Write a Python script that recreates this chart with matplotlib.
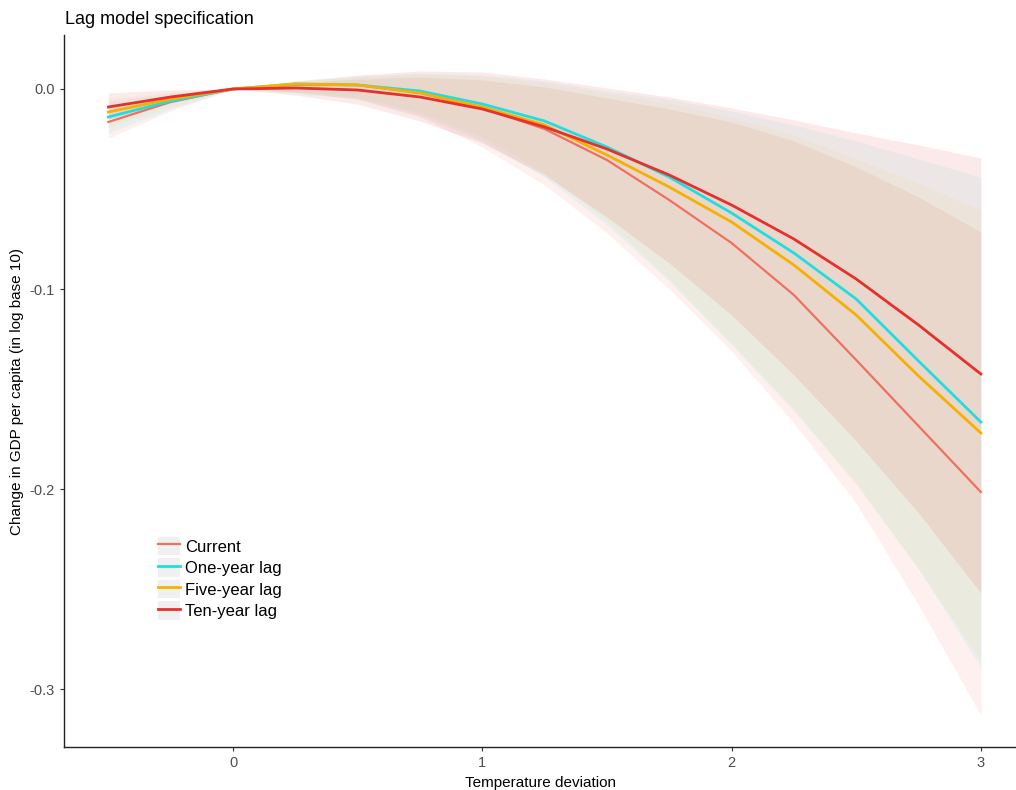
import matplotlib
matplotlib.use("Agg")
import matplotlib.pyplot as plt
from matplotlib.lines import Line2D
from matplotlib.patches import Patch

plt.rcParams['font.family'] = ['Liberation Sans', 'DejaVu Sans']

# temperature deviation grid
temp = [-0.5, -0.25, 0, 0.25, 0.5, 0.75, 1, 1.25, 1.5, 1.75, 2, 2.25, 2.5, 2.75, 3]

# fitted curves
current = [-0.0165, -0.0065, 0, 0.002, 0.002, -0.002, -0.0095, -0.020, -0.0355, -0.0555,
           -0.077, -0.103, -0.1355, -0.1685, -0.2015]
one_year = [-0.014, -0.006, 0, 0.0025, 0.002, -0.001, -0.0075, -0.016, -0.029, -0.044,
            -0.062, -0.082, -0.105, -0.136, -0.1665]
five_year = [-0.0115, -0.005, 0, 0.0025, 0.002, -0.002, -0.009, -0.018, -0.033, -0.049,
             -0.0665, -0.088, -0.113, -0.1435, -0.172]
ten_year = [-0.009, -0.004, 0, 0.0005, -0.0005, -0.004, -0.010, -0.019, -0.030, -0.043,
            -0.058, -0.075, -0.095, -0.118, -0.1425]

# confidence bands
current_lo = [-0.0245, -0.011, 0, -0.0015, -0.005, -0.014, -0.029, -0.048, -0.072, -0.100,
              -0.131, -0.167, -0.207, -0.258, -0.313]
current_hi = [-0.009, -0.003, 0, 0.003, 0.005, 0.006, 0.0045, 0.001, -0.0045, -0.010,
              -0.0165, -0.026, -0.039, -0.054, -0.0715]
one_year_lo = [-0.022, -0.010, 0, -0.002, -0.005, -0.013, -0.026, -0.044, -0.068, -0.096,
               -0.128, -0.161, -0.197, -0.240, -0.289]
one_year_hi = [-0.006, -0.002, 0, 0.004, 0.0065, 0.008, 0.007, 0.004, -0.001, -0.005,
               -0.011, -0.018, -0.026, -0.035, -0.044]
five_year_lo = [-0.019, -0.009, 0, -0.0015, -0.004, -0.012, -0.024, -0.042, -0.066, -0.095,
                -0.127, -0.160, -0.198, -0.240, -0.2855]
five_year_hi = [-0.005, -0.0015, 0, 0.0035, 0.006, 0.0075, 0.0065, 0.003, -0.002, -0.007,
                -0.014, -0.023, -0.035, -0.047, -0.0605]
ten_year_lo = [-0.015, -0.007, 0, -0.003, -0.0075, -0.016, -0.027, -0.043, -0.064, -0.087,
               -0.113, -0.143, -0.176, -0.212, -0.252]
ten_year_hi = [-0.002, -0.0005, 0, 0.004, 0.007, 0.009, 0.0085, 0.005, 0.0005, -0.004,
               -0.0095, -0.0155, -0.022, -0.028, -0.0345]

labels = ['Current', 'One-year lag', 'Five-year lag', 'Ten-year lag']
colors = ['#F0705F', '#22DDE0', '#F5B000', '#E5302D']
band_alpha = [0.10, 0.08, 0.05, 0.10]
widths = [1.6, 2.0, 2.0, 2.0]
centers = [current, one_year, five_year, ten_year]
lows = [current_lo, one_year_lo, five_year_lo, ten_year_lo]
highs = [current_hi, one_year_hi, five_year_hi, ten_year_hi]

fig = plt.figure(figsize=(10.16, 7.9), dpi=100)
ax = fig.add_axes([0.063, 0.0544, 0.937, 0.9013])

for lo, hi, c, a in zip(lows, highs, colors, band_alpha):
    ax.fill_between(temp, lo, hi, color=c, alpha=a, linewidth=0)

for y, c, w in zip(centers, colors, widths):
    ax.plot(temp, y, color=c, lw=w, solid_joinstyle='round')

ax.set_xlim(-0.678, 3.141)
ax.set_ylim(-0.329, 0.027)
ax.set_xticks([0, 1, 2, 3])
ax.set_xticklabels(['0', '1', '2', '3'])
ax.set_yticks([0.0, -0.1, -0.2, -0.3])
ax.set_yticklabels(['0.0', '-0.1', '-0.2', '-0.3'])
ax.tick_params(colors='#333333', labelcolor='#4D4D4D', labelsize=10.5, length=3, width=0.8)

for side in ['top', 'right']:
    ax.spines[side].set_visible(False)
for side in ['left', 'bottom']:
    ax.spines[side].set_color('#222222')
    ax.spines[side].set_linewidth(1.0)

ax.set_xlabel('Temperature deviation', fontsize=11, labelpad=4)
ax.set_ylabel('Change in GDP per capita (in log base 10)', fontsize=11, labelpad=4)
fig.text(0.064, 0.975, 'Lag model specification', fontsize=13, ha='left', va='center')

handles = [(Patch(facecolor='#F0F0F0', edgecolor='none'),
            Line2D([], [], color=c, lw=w)) for c, w in zip(colors, widths)]
ax.legend(handles, labels, loc='center left', bbox_to_anchor=(0.083, 0.237),
          frameon=False, fontsize=12, handlelength=1.3, handleheight=1.3,
          handletextpad=0.3, labelspacing=0.2)

fig.savefig('out.png', dpi=100)
